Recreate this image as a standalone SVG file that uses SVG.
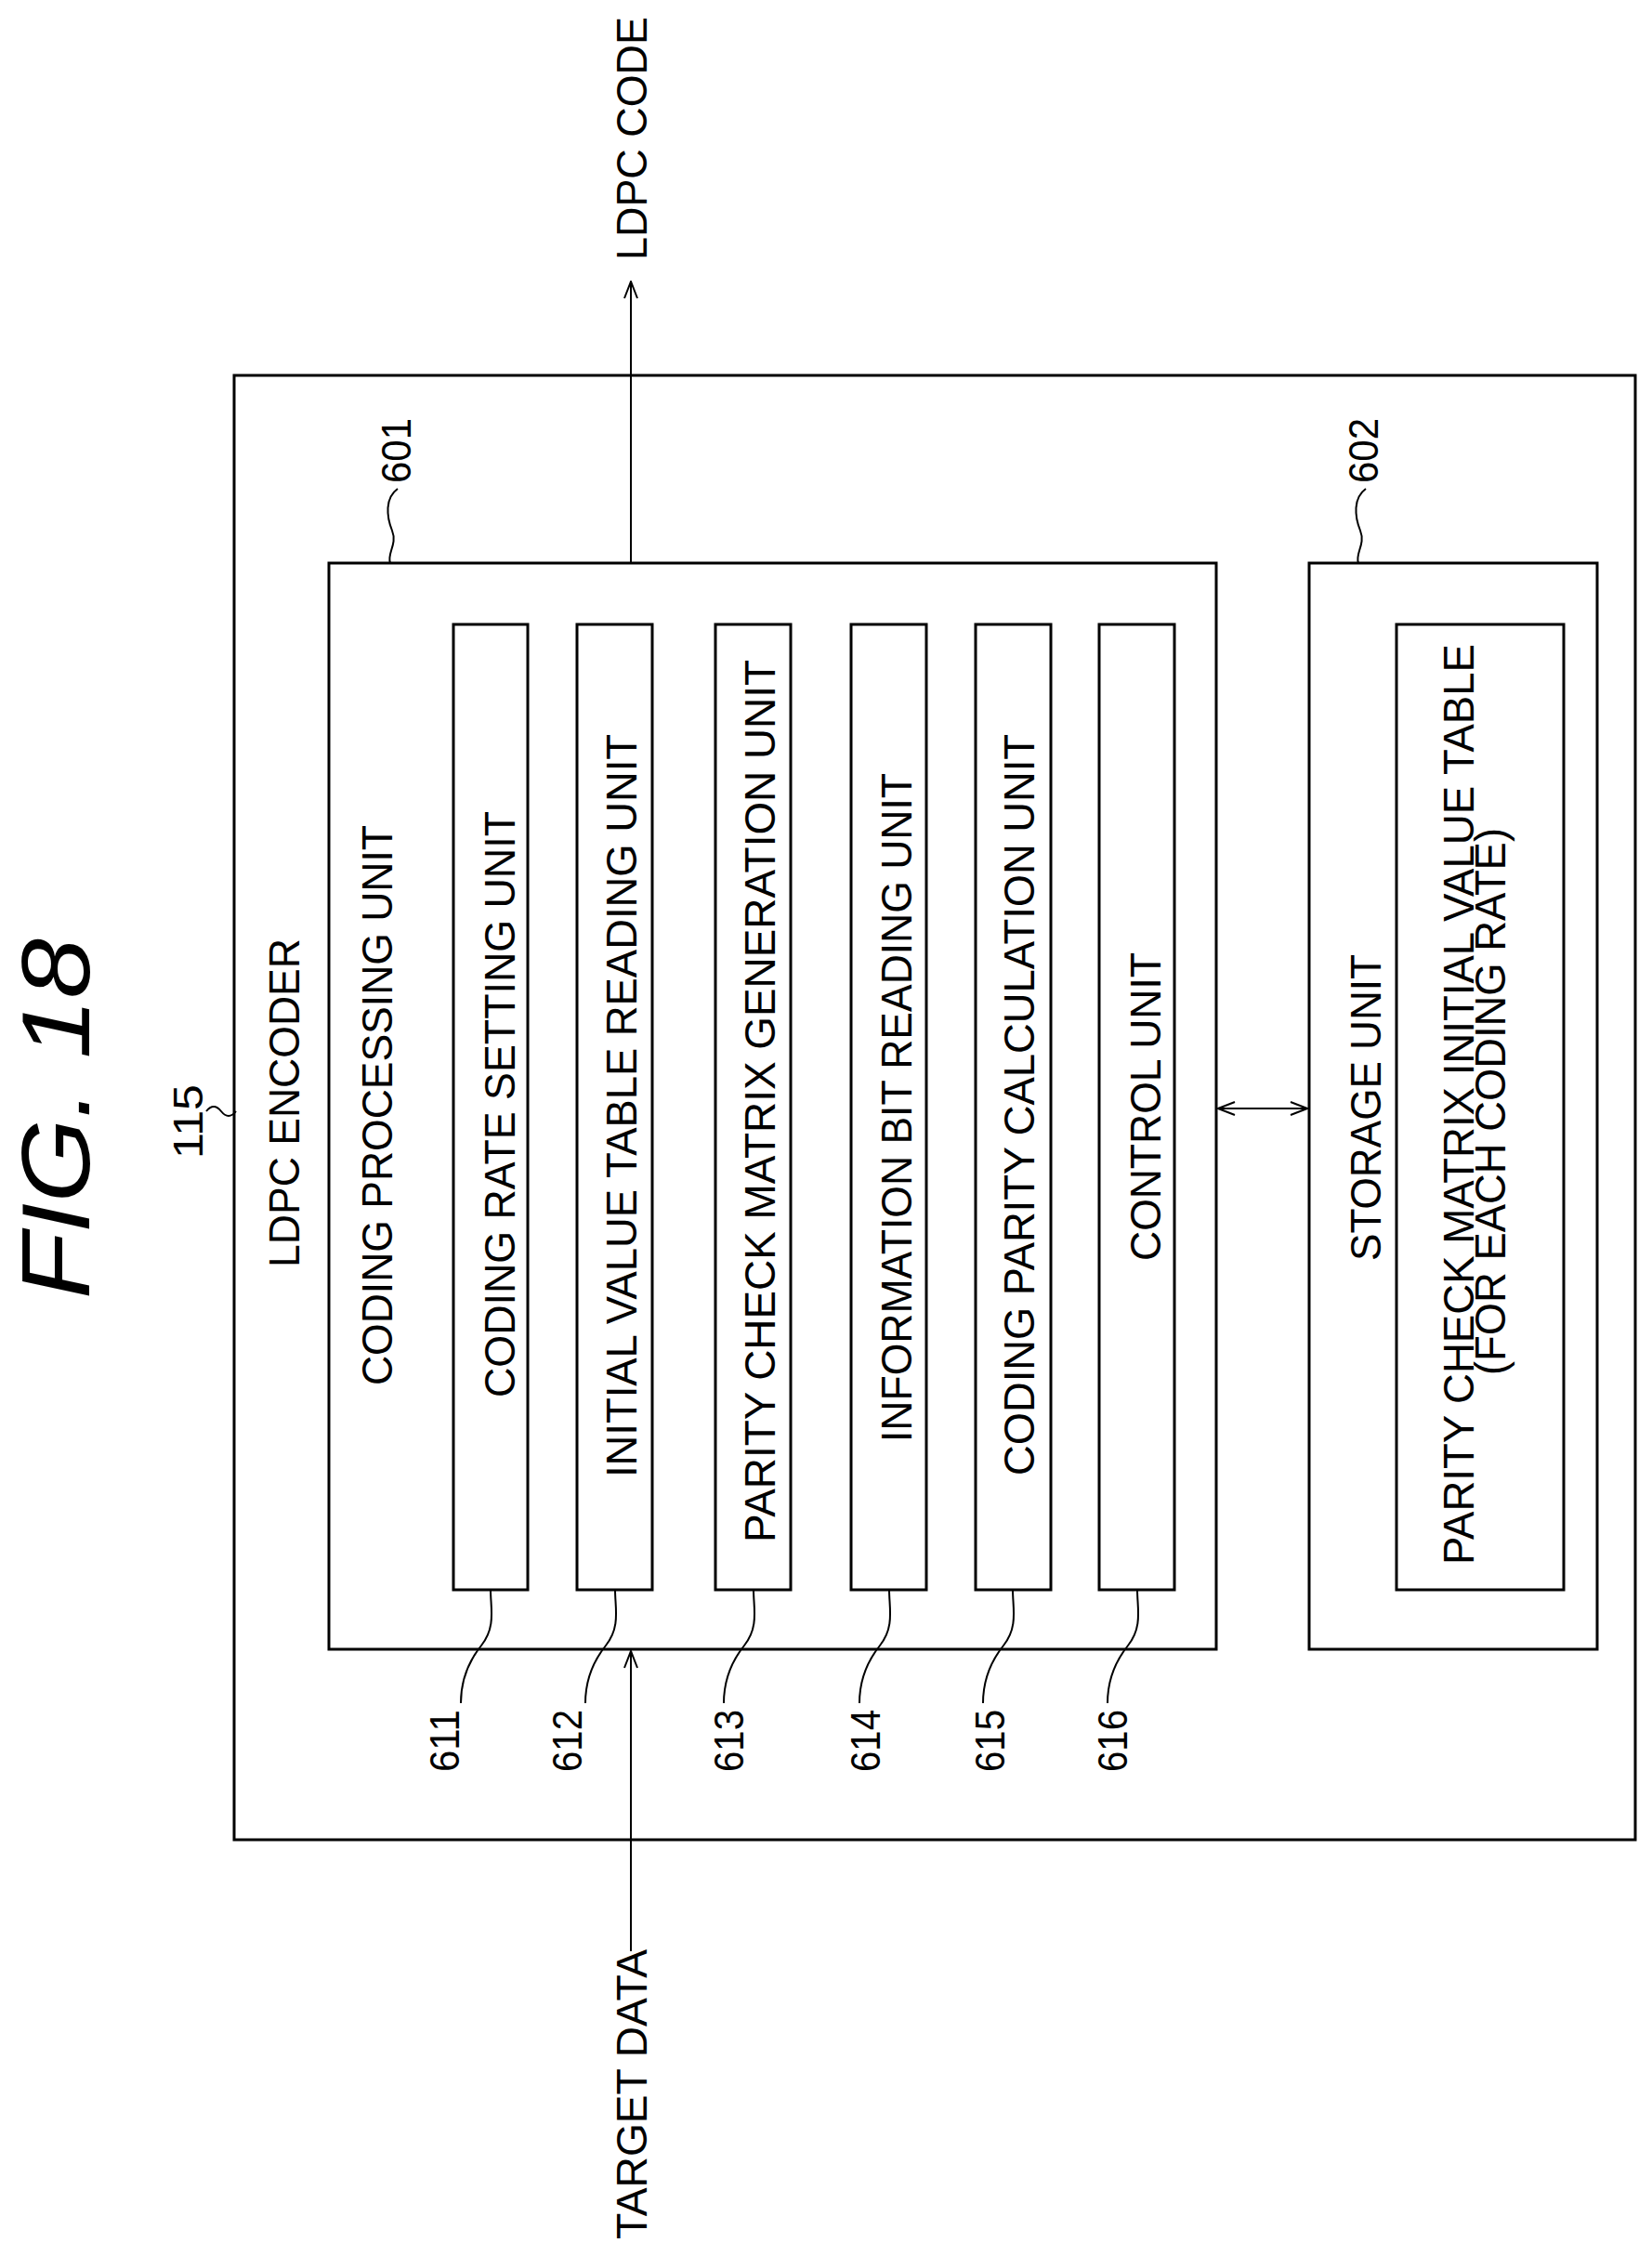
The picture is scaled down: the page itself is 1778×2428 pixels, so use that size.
<svg xmlns="http://www.w3.org/2000/svg" width="1778" height="2428" viewBox="0 0 1778 2428">
<style>
.b{fill:none;stroke:#000;stroke-width:3}
.l{fill:none;stroke:#000;stroke-width:2}
text{font-family:"Liberation Sans",Arial,sans-serif;fill:#000}
.t{font-size:46px}
.n{font-size:44px}
</style>
<defs>
<marker id="a" viewBox="0 0 20 20" refX="19" refY="10" markerWidth="20" markerHeight="20" markerUnits="userSpaceOnUse" orient="auto-start-reverse"><path d="M1,3 L19,10 L1,17" fill="none" stroke="#000" stroke-width="2"/></marker>
</defs>
<rect width="1778" height="2428" fill="#fff"/>
<text transform="translate(96,1398) rotate(-90)" font-size="104" font-style="italic" textLength="388" lengthAdjust="spacingAndGlyphs">FIG. 18</text>
<g id="n115"><text class="n" transform="translate(218,1247) rotate(-90)" textLength="80" lengthAdjust="spacingAndGlyphs">115</text><path class="l" d="M222,1196 q8,-10 16,0 t16,0"/></g>
<g id="encoder"><rect class="b" x="252" y="404" width="1508" height="1576"/>
<text class="t" transform="translate(322,1364) rotate(-90)" textLength="354" lengthAdjust="spacingAndGlyphs">LDPC ENCODER</text></g>
<g id="n601"><rect class="b" x="354" y="606" width="955" height="1169"/>
<text class="t" transform="translate(422,1491) rotate(-90)" textLength="603" lengthAdjust="spacingAndGlyphs">CODING PROCESSING UNIT</text>
<text class="n" transform="translate(442,520) rotate(-90)" textLength="70" lengthAdjust="spacingAndGlyphs">601</text>
<path class="l" d="M428,526 c-14,10 -12,30 -6,45 c6,15 -6,25 -2,35"/></g>
<g id="n602"><rect class="b" x="1409" y="606" width="310" height="1169"/>
<text class="t" transform="translate(1486,1357) rotate(-90)" textLength="330" lengthAdjust="spacingAndGlyphs">STORAGE UNIT</text>
<text class="n" transform="translate(1483,520) rotate(-90)" textLength="70" lengthAdjust="spacingAndGlyphs">602</text>
<path class="l" d="M1470,526 c-14,10 -12,30 -6,45 c6,15 -6,25 -2,35"/>
<rect class="b" x="1503" y="672" width="180" height="1039"/>
<text class="t" transform="translate(1586,1684) rotate(-90)" textLength="991" lengthAdjust="spacingAndGlyphs">PARITY CHECK MATRIX INITIAL VALUE TABLE</text>
<text class="t" transform="translate(1620,1480) rotate(-90)" textLength="589" lengthAdjust="spacingAndGlyphs">(FOR EACH CODING RATE)</text></g>
<g id="n611"><rect class="b" x="488" y="672" width="80" height="1039"/>
<text class="t" transform="translate(554,1504) rotate(-90)" textLength="631" lengthAdjust="spacingAndGlyphs">CODING RATE SETTING UNIT</text>
<text class="n" transform="translate(494,1907) rotate(-90)" textLength="67" lengthAdjust="spacingAndGlyphs">611</text>
<path class="l" d="M528,1711 c0,20 6,40 -10,60 c-16,20 -22,40 -22,62"/></g>
<g id="n612"><rect class="b" x="621" y="672" width="81" height="1039"/>
<text class="t" transform="translate(685,1590) rotate(-90)" textLength="800" lengthAdjust="spacingAndGlyphs">INITIAL VALUE TABLE READING UNIT</text>
<text class="n" transform="translate(626,1907) rotate(-90)" textLength="67" lengthAdjust="spacingAndGlyphs">612</text>
<path class="l" d="M662,1711 c0,20 6,40 -10,60 c-16,20 -22,40 -22,62"/></g>
<g id="n613"><rect class="b" x="770" y="672" width="81" height="1039"/>
<text class="t" transform="translate(834,1660) rotate(-90)" textLength="950" lengthAdjust="spacingAndGlyphs">PARITY CHECK MATRIX GENERATION UNIT</text>
<text class="n" transform="translate(800,1907) rotate(-90)" textLength="67" lengthAdjust="spacingAndGlyphs">613</text>
<path class="l" d="M811,1711 c0,20 6,40 -10,60 c-16,20 -22,40 -22,62"/></g>
<g id="n614"><rect class="b" x="916" y="672" width="81" height="1039"/>
<text class="t" transform="translate(981,1552) rotate(-90)" textLength="720" lengthAdjust="spacingAndGlyphs">INFORMATION BIT READING UNIT</text>
<text class="n" transform="translate(947,1907) rotate(-90)" textLength="67" lengthAdjust="spacingAndGlyphs">614</text>
<path class="l" d="M957,1711 c0,20 6,40 -10,60 c-16,20 -22,40 -22,62"/></g>
<g id="n615"><rect class="b" x="1050" y="672" width="81" height="1039"/>
<text class="t" transform="translate(1113,1588) rotate(-90)" textLength="798" lengthAdjust="spacingAndGlyphs">CODING PARITY CALCULATION UNIT</text>
<text class="n" transform="translate(1081,1907) rotate(-90)" textLength="67" lengthAdjust="spacingAndGlyphs">615</text>
<path class="l" d="M1090,1711 c0,20 6,40 -10,60 c-16,20 -22,40 -22,62"/></g>
<g id="n616"><rect class="b" x="1183" y="672" width="81" height="1039"/>
<text class="t" transform="translate(1249,1357) rotate(-90)" textLength="332" lengthAdjust="spacingAndGlyphs">CONTROL UNIT</text>
<text class="n" transform="translate(1213,1907) rotate(-90)" textLength="67" lengthAdjust="spacingAndGlyphs">616</text>
<path class="l" d="M1224,1711 c0,20 6,40 -10,60 c-16,20 -22,40 -22,62"/></g>
<g id="connectors">
<line class="l" x1="679" y1="606" x2="679" y2="303" marker-end="url(#a)"/>
<line class="l" x1="679" y1="2100" x2="679" y2="1777" marker-end="url(#a)"/>
<line class="l" x1="1311" y1="1193" x2="1407" y2="1193" marker-start="url(#a)" marker-end="url(#a)"/>
</g>
<text class="t" transform="translate(696,280) rotate(-90)" textLength="262" lengthAdjust="spacingAndGlyphs">LDPC CODE</text>
<text class="t" transform="translate(696,2410) rotate(-90)" textLength="312" lengthAdjust="spacingAndGlyphs">TARGET DATA</text>
</svg>
